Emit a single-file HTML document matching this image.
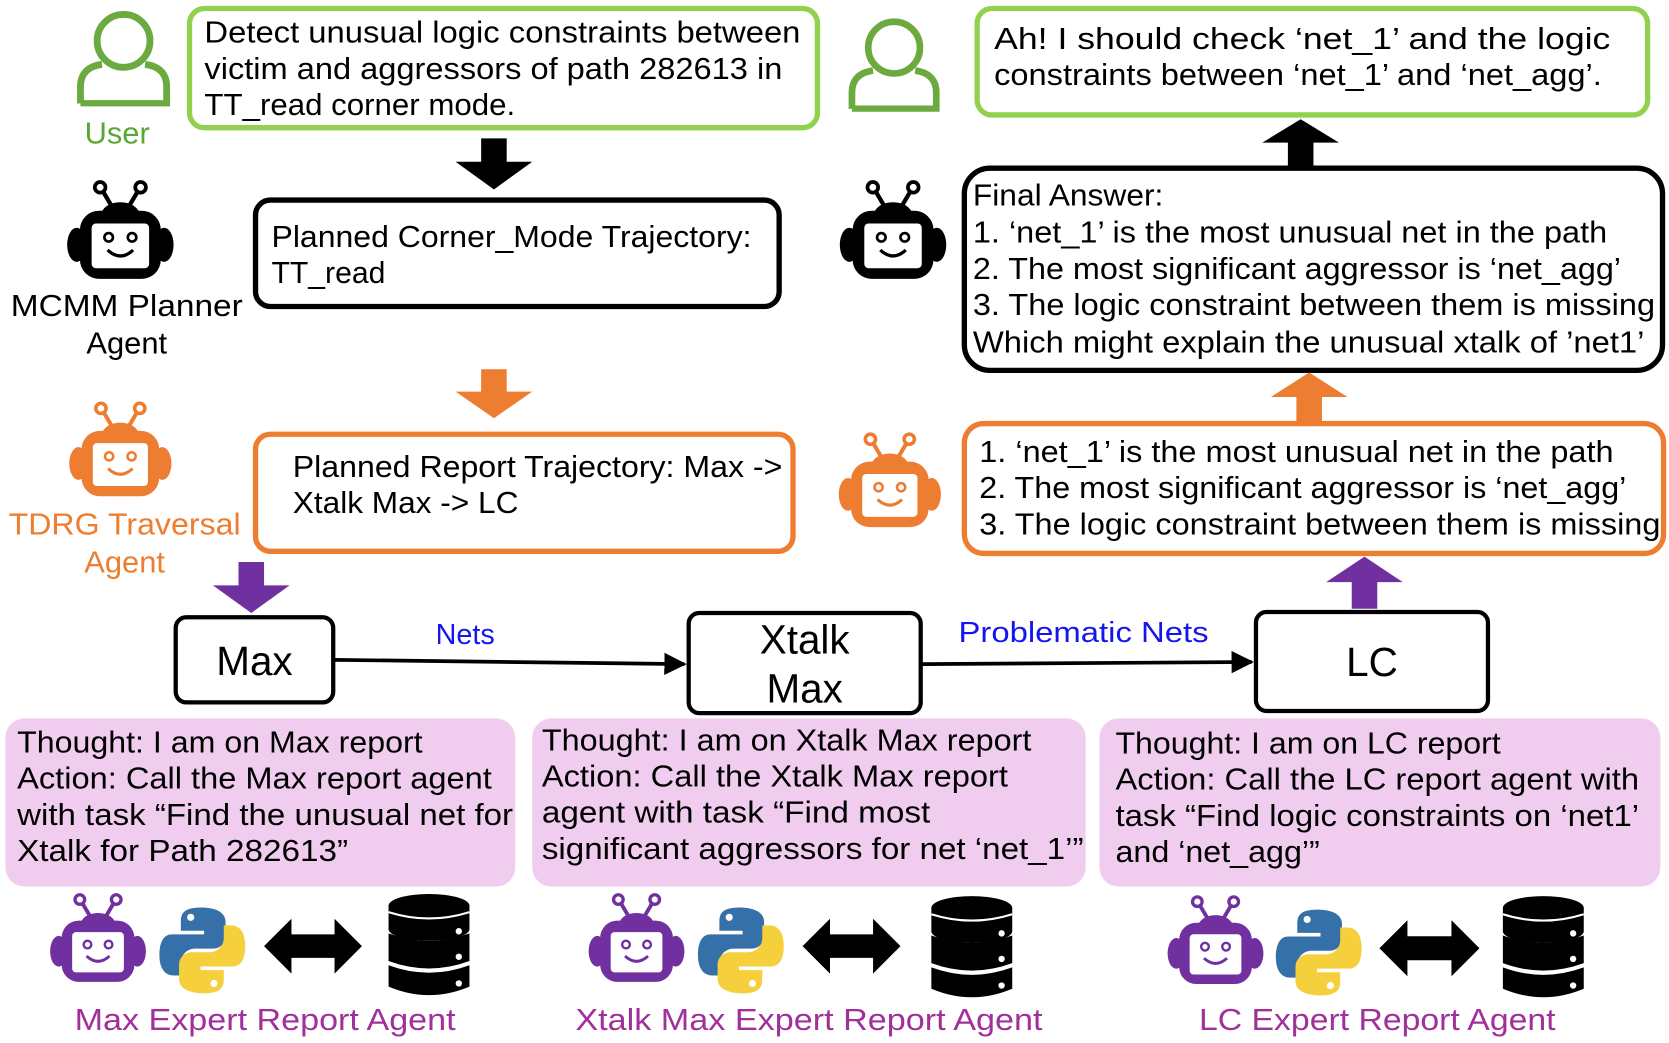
<!DOCTYPE html>
<html><head><meta charset="utf-8"><style>html,body{margin:0;padding:0;background:#fff}svg{display:block}text{font-family:"Liberation Sans","DejaVu Sans",sans-serif}</style></head><body>
<svg width="1669" height="1043" viewBox="0 0 1568 980" xmlns="http://www.w3.org/2000/svg">
<defs>
<symbol id="robot" viewBox="0 0 100 100">
<line x1="32" y1="9" x2="42" y2="26" stroke="currentColor" stroke-width="4"/>
<line x1="68" y1="9" x2="58" y2="26" stroke="currentColor" stroke-width="4"/>
<circle cx="31" cy="8" r="5" fill="#fff" stroke="currentColor" stroke-width="3.5"/>
<circle cx="69" cy="8" r="5" fill="#fff" stroke="currentColor" stroke-width="3.5"/>
<ellipse cx="50" cy="34" rx="18" ry="12" fill="currentColor"/>
<rect x="12" y="30" width="76" height="64" rx="18" fill="currentColor"/>
<ellipse cx="9" cy="62" rx="9" ry="16" fill="currentColor"/>
<ellipse cx="91" cy="62" rx="9" ry="16" fill="currentColor"/>
<rect x="23" y="42" width="54" height="42" rx="4" fill="#fff"/>
<circle cx="39" cy="55" r="4" fill="none" stroke="currentColor" stroke-width="2.5"/>
<circle cx="61" cy="55" r="4" fill="none" stroke="currentColor" stroke-width="2.5"/>
<path d="M38 67 Q50 78 62 67" fill="none" stroke="currentColor" stroke-width="3"/>
</symbol>
<symbol id="user" viewBox="0 0 100 100">
<circle cx="50" cy="33" r="27" fill="none" stroke="currentColor" stroke-width="7"/>
<path d="M6 97 V80 Q6 60 28 57 M72 57 Q94 60 94 80 V97 H6" fill="none" stroke="currentColor" stroke-width="7"/>
</symbol>
<symbol id="py" viewBox="0 0 100 100">
<path d="M48 2 C28 2 26 10 26 18 V28 H52 V32 H16 C6 32 2 42 2 55 C2 70 8 78 18 78 H26 V64 C26 55 33 48 42 48 H62 C70 48 76 42 76 34 V18 C76 8 66 2 48 2Z" fill="#3670a8"/>
<circle cx="37" cy="13" r="4" fill="#fff"/>
<path d="M52 98 C72 98 74 90 74 82 V72 H48 V68 H84 C94 68 98 58 98 45 C98 30 92 22 82 22 H74 V36 C74 45 67 52 58 52 H38 C30 52 24 58 24 66 V82 C24 92 34 98 52 98Z" fill="#f5cf3c"/>
<circle cx="63" cy="87" r="4" fill="#fff"/>
</symbol>
<symbol id="db" viewBox="0 0 80 100">
<ellipse cx="40" cy="12" rx="38" ry="11" fill="#000"/>
<rect x="2" y="12" width="76" height="22" fill="#000"/>
<ellipse cx="40" cy="34" rx="38" ry="11" fill="#000"/>
<path d="M2 38 Q40 52 78 38 V64 Q40 78 2 64Z" fill="#000"/>
<path d="M2 68 Q40 82 78 68 V88 Q40 104 2 88Z" fill="#000"/>
<path d="M2 18 Q40 30 78 18" fill="none" stroke="#fff" stroke-width="2"/>
<circle cx="68" cy="36" r="3" fill="#fff"/><circle cx="68" cy="60" r="3" fill="#fff"/><circle cx="68" cy="85" r="3" fill="#fff"/>
</symbol>
<symbol id="dbl" viewBox="0 0 100 56">
<path d="M0 28 L28 0 V16 H72 V0 L100 28 L72 56 V40 H28 V56Z" fill="#000"/>
</symbol>
<marker id="ah" viewBox="0 0 10 10" refX="9" refY="5" markerWidth="6" markerHeight="6" orient="auto"><path d="M0 0 L10 5 L0 10Z" fill="#000"/></marker>
</defs>

<use href="#user" x="66" y="8" width="100" height="92" style="color:#6aaa3f"/>
<text x="110" y="135" font-size="29" fill="#5aa832" text-anchor="middle">User</text>
<use href="#robot" x="58" y="168" width="110" height="100" style="color:#000"/>
<text x="119" y="297" font-size="29" text-anchor="middle" textLength="218" lengthAdjust="spacingAndGlyphs">MCMM Planner</text>
<text x="119" y="332" font-size="29" text-anchor="middle">Agent</text>
<use href="#robot" x="62" y="376" width="102" height="96" style="color:#ed7d31"/>
<text x="117" y="502" font-size="29" fill="#ed7d31" text-anchor="middle" textLength="218" lengthAdjust="spacingAndGlyphs">TDRG Traversal</text>
<text x="117" y="538" font-size="29" fill="#ed7d31" text-anchor="middle">Agent</text>

<rect x="178" y="8" width="590" height="112" rx="14" fill="#fff" stroke="#92d050" stroke-width="5"/>
<g font-size="29" lengthAdjust="spacingAndGlyphs">
<text x="192" y="40" textLength="560" lengthAdjust="spacingAndGlyphs">Detect unusual logic constraints between</text>
<text x="192" y="74" textLength="543" lengthAdjust="spacingAndGlyphs">victim and aggressors of path 282613 in</text>
<text x="192" y="108" textLength="292" lengthAdjust="spacingAndGlyphs">TT_read corner mode.</text>
</g>
<path d="M452 130 H476 V152 H500 L464 178 L428 152 H452Z" fill="#000"/>

<rect x="240" y="188" width="492" height="100" rx="14" fill="#fff" stroke="#000" stroke-width="5"/>
<text x="255" y="232" font-size="29" textLength="451" lengthAdjust="spacingAndGlyphs">Planned Corner_Mode Trajectory:</text>
<text x="255" y="266" font-size="29" textLength="107" lengthAdjust="spacingAndGlyphs">TT_read</text>
<path d="M452 347 H476 V368 H500 L464 393 L428 368 H452Z" fill="#ed7d31"/>

<rect x="240" y="408" width="505" height="110" rx="14" fill="#fff" stroke="#ed7d31" stroke-width="5"/>
<text x="275" y="448" font-size="29" textLength="460" lengthAdjust="spacingAndGlyphs">Planned Report Trajectory: Max -&gt;</text>
<text x="275" y="482" font-size="29" textLength="212" lengthAdjust="spacingAndGlyphs">Xtalk Max -&gt; LC</text>
<path d="M224 528 H248 V550 H272 L236 576 L200 550 H224Z" fill="#7030a0"/>

<rect x="165" y="580" width="148" height="80" rx="10" fill="#fff" stroke="#000" stroke-width="4"/>
<text x="239" y="634" font-size="38" text-anchor="middle">Max</text>
<line x1="314" y1="620" x2="643" y2="624" stroke="#000" stroke-width="3.5" marker-end="url(#ah)"/>
<text x="437" y="605" font-size="27" fill="#1515ee" text-anchor="middle">Nets</text>
<rect x="647" y="576" width="218" height="94" rx="10" fill="#fff" stroke="#000" stroke-width="4"/>
<text x="756" y="614" font-size="38" text-anchor="middle">Xtalk</text>
<text x="756" y="660" font-size="38" text-anchor="middle">Max</text>
<line x1="866" y1="624" x2="1176" y2="622" stroke="#000" stroke-width="3.5" marker-end="url(#ah)"/>
<text x="1018" y="603" font-size="27" fill="#1515ee" text-anchor="middle" textLength="235" lengthAdjust="spacingAndGlyphs">Problematic Nets</text>
<rect x="1180" y="575" width="218" height="93" rx="10" fill="#fff" stroke="#000" stroke-width="4"/>
<text x="1289" y="635" font-size="38" text-anchor="middle">LC</text>

<rect x="5" y="675" width="479" height="158" rx="18" fill="#f0cdee"/>
<rect x="500" y="675" width="520" height="158" rx="18" fill="#f0cdee"/>
<rect x="1033" y="675" width="527" height="158" rx="18" fill="#f0cdee"/>
<g font-size="29">
<text x="16" y="707" textLength="381" lengthAdjust="spacingAndGlyphs">Thought: I am on Max report</text>
<text x="16" y="741" textLength="446" lengthAdjust="spacingAndGlyphs">Action: Call the Max report agent</text>
<text x="16" y="775" textLength="466" lengthAdjust="spacingAndGlyphs">with task “Find the unusual net for</text>
<text x="16" y="809" textLength="311" lengthAdjust="spacingAndGlyphs">Xtalk for Path 282613”</text>
<text x="509" y="705" textLength="460" lengthAdjust="spacingAndGlyphs">Thought: I am on Xtalk Max report</text>
<text x="509" y="739" textLength="438" lengthAdjust="spacingAndGlyphs">Action: Call the Xtalk Max report</text>
<text x="509" y="773" textLength="365" lengthAdjust="spacingAndGlyphs">agent with task “Find most</text>
<text x="509" y="807" textLength="509" lengthAdjust="spacingAndGlyphs">significant aggressors for net ‘net_1’”</text>
<text x="1048" y="708" textLength="362" lengthAdjust="spacingAndGlyphs">Thought: I am on LC report</text>
<text x="1048" y="742" textLength="492" lengthAdjust="spacingAndGlyphs">Action: Call the LC report agent with</text>
<text x="1048" y="776" textLength="492" lengthAdjust="spacingAndGlyphs">task “Find logic constraints on ‘net1’</text>
<text x="1048" y="810" textLength="192" lengthAdjust="spacingAndGlyphs">and ‘net_agg’”</text>
</g>

<use href="#robot" x="42" y="838" width="100" height="90" style="color:#7030a0"/>
<use href="#py" x="148" y="850" width="84" height="86"/>
<use href="#dbl" x="248" y="862" width="92" height="54"/>
<use href="#db" x="363" y="838" width="80" height="102"/>
<text x="249" y="968" font-size="29" fill="#a0309a" text-anchor="middle" textLength="358" lengthAdjust="spacingAndGlyphs">Max Expert Report Agent</text>
<use href="#robot" x="548" y="838" width="100" height="90" style="color:#7030a0"/>
<use href="#py" x="654" y="850" width="84" height="86"/>
<use href="#dbl" x="754" y="862" width="92" height="54"/>
<use href="#db" x="873" y="840" width="80" height="102"/>
<text x="760" y="968" font-size="29" fill="#a0309a" text-anchor="middle" textLength="439" lengthAdjust="spacingAndGlyphs">Xtalk Max Expert Report Agent</text>
<use href="#robot" x="1092" y="840" width="100" height="90" style="color:#7030a0"/>
<use href="#py" x="1197" y="852" width="84" height="86"/>
<use href="#dbl" x="1296" y="864" width="94" height="54"/>
<use href="#db" x="1410" y="840" width="80" height="102"/>
<text x="1294" y="968" font-size="29" fill="#a0309a" text-anchor="middle" textLength="335" lengthAdjust="spacingAndGlyphs">LC Expert Report Agent</text>

<use href="#user" x="790" y="15" width="100" height="90" style="color:#6aaa3f"/>
<rect x="918" y="8" width="630" height="100" rx="14" fill="#fff" stroke="#92d050" stroke-width="5"/>
<text x="934" y="46" font-size="29" textLength="579" lengthAdjust="spacingAndGlyphs">Ah! I should check ‘net_1’ and the logic</text>
<text x="934" y="80" font-size="29" textLength="571" lengthAdjust="spacingAndGlyphs">constraints between ‘net_1’ and ‘net_agg’.</text>
<path d="M1210 158 V134 H1186 L1222 112 L1258 134 H1234 V158Z" fill="#000"/>
<use href="#robot" x="785" y="168" width="108" height="100" style="color:#000"/>
<rect x="906" y="158" width="656" height="190" rx="24" fill="#fff" stroke="#000" stroke-width="5"/>
<g font-size="29">
<text x="914" y="193" textLength="179" lengthAdjust="spacingAndGlyphs">Final Answer:</text>
<text x="914" y="228" textLength="596" lengthAdjust="spacingAndGlyphs">1. ‘net_1’ is the most unusual net in the path</text>
<text x="914" y="262" textLength="609" lengthAdjust="spacingAndGlyphs">2. The most significant aggressor is ‘net_agg’</text>
<text x="914" y="296" textLength="641" lengthAdjust="spacingAndGlyphs">3. The logic constraint between them is missing</text>
<text x="914" y="331" textLength="631" lengthAdjust="spacingAndGlyphs">Which might explain the unusual xtalk of ’net1’</text>
</g>
<path d="M1218 398 V373 H1194 L1230 350 L1266 373 H1242 V398Z" fill="#ed7d31"/>
<use href="#robot" x="785" y="405" width="102" height="96" style="color:#ed7d31"/>
<rect x="906" y="398" width="657" height="122" rx="18" fill="#fff" stroke="#ed7d31" stroke-width="5"/>
<g font-size="29">
<text x="920" y="434" textLength="596" lengthAdjust="spacingAndGlyphs">1. ‘net_1’ is the most unusual net in the path</text>
<text x="920" y="468" textLength="608" lengthAdjust="spacingAndGlyphs">2. The most significant aggressor is ‘net_agg’</text>
<text x="920" y="502" textLength="640" lengthAdjust="spacingAndGlyphs">3. The logic constraint between them is missing</text>
</g>
<path d="M1270 572 V547 H1246 L1282 523 L1318 547 H1294 V572Z" fill="#7030a0"/>
</svg>
</body></html>
